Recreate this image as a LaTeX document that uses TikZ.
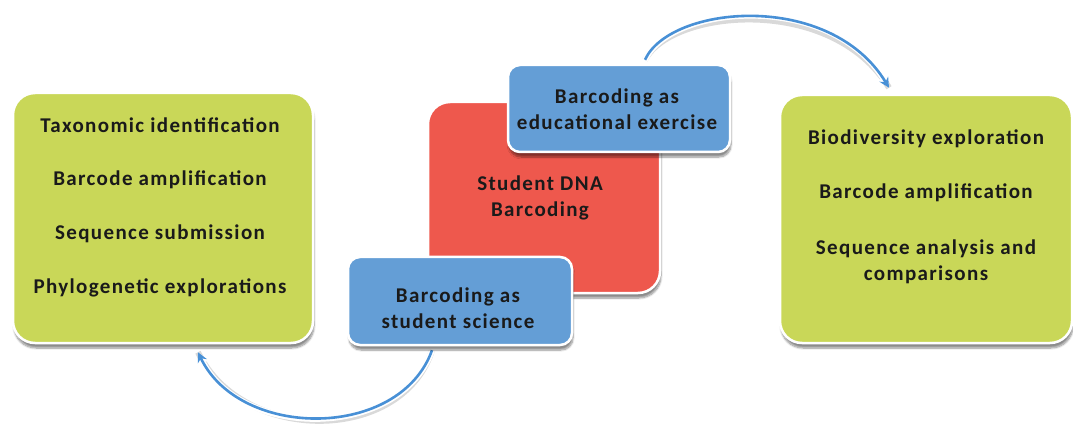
\documentclass[tikz,border=0pt]{standalone}
\usepackage{fontspec}
\setmainfont{Carlito}
\newfontfamily\cardfont[LetterSpace=6.5]{Carlito}
\usetikzlibrary{calc,shadows.blur,arrows.meta}
\pgfdeclarelayer{arcs}
\pgfsetlayers{arcs,main}
\definecolor{boxgreen}{RGB}{201,215,88}
\definecolor{boxred}{RGB}{238,88,77}
\definecolor{boxblue}{RGB}{100,158,214}
\definecolor{arcblue}{RGB}{72,144,214}
\definecolor{ink}{RGB}{26,26,26}
\tikzset{
  card/.style={draw=white, line width=2.5pt, rounded corners=22pt, inner sep=0pt,
    blur shadow={shadow xshift=1pt, shadow yshift=-5pt, shadow blur steps=8, shadow opacity=45}},
  greencard/.style={card, fill=boxgreen},
  redcard/.style={card, fill=boxred},
  bluecard/.style={card, fill=boxblue, rounded corners=12pt},
  label/.style={text=ink, font=\cardfont\bfseries\fontsize{21}{26}\selectfont, align=center, inner sep=0pt},
  arcshade/.style={black!60, line width=6pt},
  arcback/.style={white, line width=6pt, -{Stealth[length=14pt,width=14pt]}},
  arcfront/.style={arcblue, line width=2.6pt, -{Stealth[length=10pt,width=10pt]}},
}
\begin{document}
\begin{tikzpicture}[x=1pt,y=-1pt]
  \useasboundingbox (0,0) rectangle (1073,430);

  % cards
  \node[greencard, minimum width=300pt, minimum height=250pt] (leftcard) at (163,218) {};
  \node[greencard, minimum width=292pt, minimum height=248pt] (rightcard) at (926,219) {};
  \node[redcard, minimum width=232pt, minimum height=191pt] (core) at (544,197.5) {};
  \node[bluecard, minimum width=224pt, minimum height=88pt] (sci) at (460,301) {};
  \node[bluecard, minimum width=222pt, minimum height=87pt] (edu) at (619,108.5) {};

  % card texts
  \node[label] (l1) at (160,125) {Taxonomic identification};
  \node[label] (l2) at (160,180) {Barcode amplification};
  \node[label] (l3) at (160,234) {Sequence submission};
  \node[label] (l4) at (160,288) {Phylogenetic explorations};

  \node[label] (r1) at (926,139) {Biodiversity exploration};
  \node[label] (r2) at (926,193) {Barcode amplification};
  \node[label] (r3) at (926,262) {Sequence analysis and\\comparisons};

  \node[label] (c1) at (540,198) {Student DNA\\Barcoding};
  \node[label] (e1) at (617,109) {Barcoding as\\educational exercise};
  \node[label] (s1) at (458,308) {Barcoding as\\student science};

  % cycle arrows, kept behind the cards
  \coordinate (botstart) at ($(sci.south)+(-28,4)$);
  \coordinate (botend) at ($(leftcard.south)+(35,8)$);
  \coordinate (topstart) at ($(edu.north)+(26,-4)$);
  \coordinate (topend) at ($(rightcard.north)+(-37,-6)$);

  \begin{pgfonlayer}{arcs}
    \begin{scope}[transparency group, opacity=0.25]
      \draw[arcshade, shift={(2pt,-4pt)}] (botstart) .. controls (400,440) and (240,440) .. (botend);
      \draw[arcshade, shift={(2pt,-4pt)}] (topstart) .. controls (670,5) and (830,-10) .. (topend);
    \end{scope}
    \draw[arcback] (botstart) .. controls (400,440) and (240,440) .. (botend);
    \draw[arcfront] (botstart) .. controls (400,440) and (240,440) .. (botend);
    \draw[arcback] (topstart) .. controls (670,5) and (830,-10) .. (topend);
    \draw[arcfront] (topstart) .. controls (670,5) and (830,-10) .. (topend);
  \end{pgfonlayer}
\end{tikzpicture}
\end{document}
